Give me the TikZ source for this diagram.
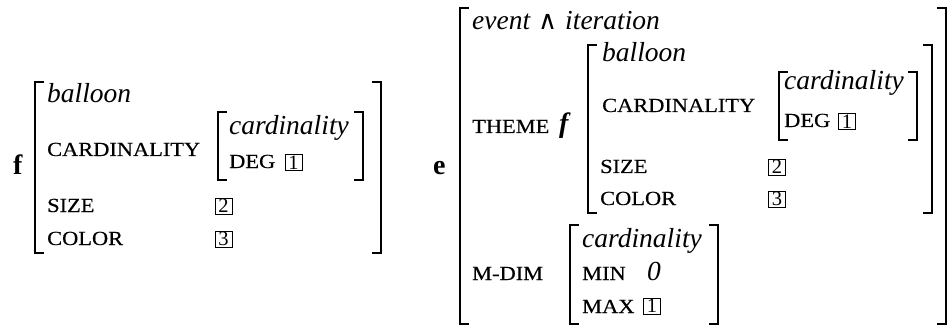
\documentclass[tikz,border=0pt]{standalone}
\usepackage{fix-cm}
\usepackage{fontspec}
\setmainfont{Liberation Serif}
\newfontfamily\scf[FakeStretch=1.12,FakeBold=0.4]{Liberation Serif}
\newfontfamily\djv{DejaVu Sans}
\tikzset{
 it/.style={anchor=base west, inner sep=0pt, font=\fontsize{27.5}{30}\selectfont\itshape},
 sc/.style={anchor=base west, inner sep=0pt, font=\fontsize{20}{22}\selectfont\scf},
 bfl/.style={anchor=base west, inner sep=0pt, font=\fontsize{28}{30}\selectfont\bfseries},
 tag/.style={draw, line width=0.8pt, inner sep=0pt, minimum width=17pt, minimum height=16pt, font=\fontsize{20.5}{22}\selectfont},
 brk/.style={line width=2.7pt, line join=miter}
}
\newcommand\mylb[3]{\draw[brk] (#1+9,#2) -- (#1,#2) -- (#1,#3) -- (#1+9,#3);}
\newcommand\myrb[3]{\draw[brk] (#1-9,#2) -- (#1,#2) -- (#1,#3) -- (#1-9,#3);}
\begin{document}
\begin{tikzpicture}[x=1pt,y=-1pt]
\useasboundingbox[fill=white] (0,0) rectangle (951,326);
% ---------- left AVM ----------
\node[bfl] (f) at (13,175) {f};
\mylb{35}{82}{253}
\myrb{381}{82}{253}
\node[it] (lballoon) at (47,103) {balloon};
\node[sc] (lcard) at (47,156) {CARDINALITY};
\mylb{218}{112}{180}
\myrb{363}{112}{180}
\node[it] (lcardt) at (229,135) {cardinality};
\node[sc] (ldeg) at (229,168) {DEG};
\node[tag] (lb1) at (293.5,162.5) {1};
\node[sc] (lsize) at (47,212) {SIZE};
\node[tag] (lb2) at (223.5,206) {2};
\node[sc] (lcolor) at (47,245) {COLOR};
\node[tag] (lb3) at (223.5,239) {3};
% ---------- right AVM ----------
\node[bfl] (e) at (433,175) {e};
\mylb{460}{8}{324}
\myrb{946}{8}{324}
\node[it] (ev) at (472,30) {event\hspace{8pt}{\upshape\djv\fontsize{26}{28}\selectfont ∧}\hspace{8pt}iteration};
\node[sc] (theme) at (472,133) {THEME};
\node[bfl, font=\fontsize{28}{30}\selectfont\bfseries\itshape] (fi) at (559,133) {f};
\mylb{588}{45}{213}
\myrb{932}{45}{213}
\node[it] (rballoon) at (602,62) {balloon};
\node[sc] (rcard) at (602,112) {CARDINALITY};
\mylb{779}{72}{140}
\myrb{917}{72}{140}
\node[it] (rcardt) at (784,90) {cardinality};
\node[sc] (rdeg) at (784,127) {DEG};
\node[tag] (rb1) at (847,121.5) {1};
\node[sc] (rsize) at (600,173) {SIZE};
\node[tag] (rb2) at (777,167) {2};
\node[sc] (rcolor) at (600,205) {COLOR};
\node[tag] (rb3) at (777,199) {3};
\node[sc] (mdim) at (472,280) {M-DIM};
\mylb{570}{225}{324}
\myrb{718}{225}{324}
\node[it] (mcard) at (582,247) {cardinality};
\node[sc] (mmin) at (582,280) {MIN};
\node[it] (zero) at (647,280) {0};
\node[sc] (mmax) at (582,313) {MAX};
\node[tag] (mb1) at (652,306) {1};
\end{tikzpicture}
\end{document}
